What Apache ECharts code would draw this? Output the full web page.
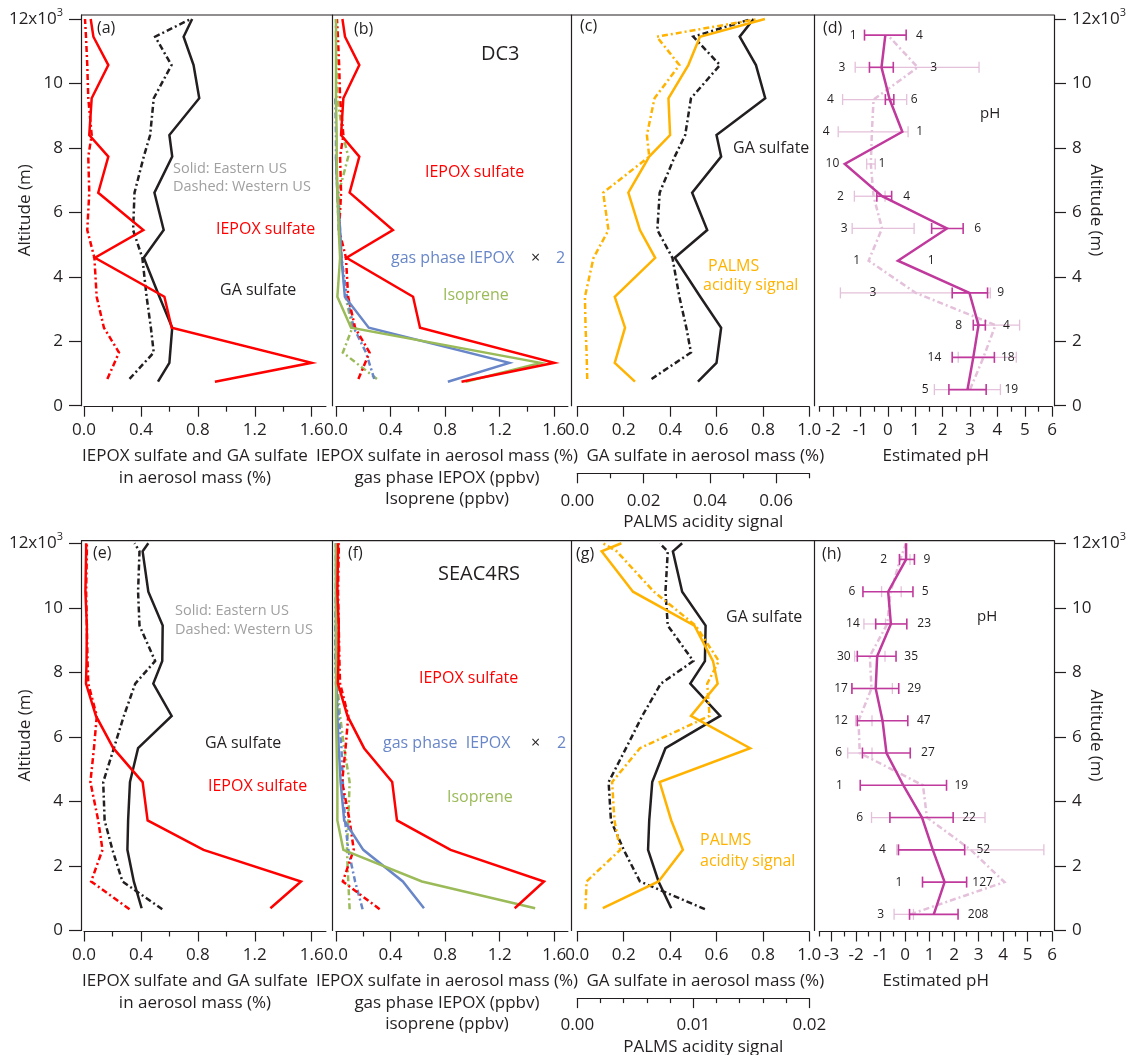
<!DOCTYPE html>
<html><head><meta charset="utf-8">
<script src="https://cdn.jsdelivr.net/npm/echarts@6/dist/echarts.min.js"></script>
<style>html,body{margin:0;padding:0;background:#fff}#c{width:1129px;height:1055px}</style>
</head><body><div id="c"></div>
<script>
// ================= DATA =================
// --- DC3 vertical profiles (altitude, m) ---
const dc3AltEast = [745, 1330, 2420, 3380, 4590, 5450, 6610, 7730, 8400, 9540, 10570, 11450, 12000];
const dc3AltWest = [830, 1650, 2420, 3380, 4590, 5450, 6610, 7730, 8400, 9540, 10570, 11450, 12000];
const dc3IepoxEast = [0.92, 1.60, 0.616, 0.565, 0.077, 0.417, 0.10, 0.171, 0.037, 0.054, 0.171, 0.066, 0.047];
const dc3IepoxWest = [0.164, 0.246, 0.14, 0.089, 0.073, 0.023, 0.037, 0.03, 0.054, 0.03, 0.023, 0.014, 0.007];
const dc3GaEast = [0.52, 0.60, 0.62, 0.53, 0.42, 0.56, 0.495, 0.62, 0.60, 0.81, 0.77, 0.70, 0.76];
const dc3GaWest = [0.32, 0.49, 0.47, 0.44, 0.41, 0.345, 0.355, 0.42, 0.465, 0.49, 0.615, 0.50, 0.75];
const dc3IsopEast = [0.95, 1.50, 0.11, 0.01, 0.03, 0.02, 0.01, 0.005, 0.005, 0.0, 0.0, 0.0, 0.0];
const dc3IsopWest = [0.30, 0.05, 0.12, 0.07, 0.04, 0.03, 0.02, 0.09, 0.05, 0.01, 0.005, 0.0, 0.0];
const dc3GasEast = [0.82, 1.27, 0.24, 0.065, 0.04, 0.03, 0.01, 0.0, null, null, null, null, null];
const dc3GasWest = [0.28, 0.22, 0.13, 0.08, 0.04, 0.02, 0.01, 0.0, 0.0, -0.005, null, null, null];
const dc3PalmsEast = [0.0174, 0.0113, 0.0144, 0.0113, 0.0235, 0.0189, 0.0154, 0.0217, 0.028, 0.0275, 0.0335, 0.037, 0.0566];
const dc3PalmsWest = [0.0030, 0.0028, 0.0025, 0.0023, 0.0049, 0.0094, 0.0078, 0.0217, 0.0210, 0.0233, 0.0308, 0.0240, 0.0546];

// --- SEAC4RS vertical profiles ---
const seacAltEast = [690, 1520, 2500, 3410, 4600, 5650, 6650, 7650, 8350, 9450, 10500, 11750, 12000];
const seacAltWest = [660, 1520, 2500, 3410, 4600, 5650, 6650, 7650, 8350, 9450, 10500, 11750, 12000];
const seacIepoxEast = [1.31, 1.525, 0.84, 0.447, 0.412, 0.206, 0.084, 0.014, 0.018, 0.02, 0.01, 0.015, 0.015];
const seacIepoxWest = [0.32, 0.05, 0.13, 0.10, 0.045, 0.07, 0.09, 0.03, 0.025, 0.02, 0.015, 0.02, 0.02];
const seacGaEast = [0.405, 0.35, 0.305, 0.31, 0.323, 0.38, 0.616, 0.487, 0.55, 0.553, 0.452, 0.412, 0.452];
const seacGaWest = [0.55, 0.27, 0.20, 0.145, 0.135, 0.21, 0.28, 0.36, 0.50, 0.39, 0.38, 0.39, 0.355];
const seacIsopEast = [1.46, 0.63, 0.054, 0.01, 0.01, 0.005, 0.0, 0.0, 0.0, 0.0, 0.0, 0.0, 0.0];
const seacIsopWest = [0.10, 0.09, 0.08, 0.09, 0.10, 0.06, 0.03, 0.01, 0.005, 0.0, 0.0, 0.0, 0.0];
const seacGasEast = [0.645, 0.49, 0.20, 0.06, 0.034, 0.02, 0.01, 0.005, 0.0, 0.0, 0.0, 0.0, 0.0];
const seacGasWest = [0.195, 0.14, 0.09, 0.066, 0.05, 0.04, 0.02, 0.0, -0.005, -0.005, 0.0, 0.0, 0.0];
const seacPalmsEast = [0.0022, 0.0070, 0.0091, 0.0081, 0.0071, 0.0149, 0.0098, 0.0121, 0.0117, 0.0101, 0.0048, 0.0021, 0.0038];
const seacPalmsWest = [0.0007, 0.0008, 0.0037, 0.0032, 0.0030, 0.0054, 0.0114, 0.0112, 0.0122, 0.0102, 0.0066, 0.0034, 0.0022];

// --- Estimated pH, DC3 ---
const dc3PhAlt = [500, 1500, 2500, 3500, 4500, 5500, 6500, 7500, 8500, 9500, 10500, 11500];
const dc3PhEast = [2.91, 3.12, 3.31, 2.98, 0.37, 2.16, -0.21, -1.57, 0.53, 0.07, -0.23, -0.09];
const dc3PhEastLo = [2.23, 2.35, 3.12, 2.35, null, 1.60, -0.40, null, null, -0.09, -0.67, -0.85];
const dc3PhEastHi = [3.59, 3.89, 3.56, 3.64, null, 2.75, 0.14, null, null, 0.22, 0.20, 0.67];
const dc3PhWest = [3.00, 3.49, 3.93, 1.02, -0.70, -0.21, -0.52, -0.62, -0.58, -0.52, 1.09, 0.00];
const dc3PhWestLo = [1.70, 2.57, 3.31, -1.73, null, -1.30, -1.22, -0.77, -1.81, -1.65, -1.19, null];
const dc3PhWestHi = [4.11, 4.69, 4.81, 3.74, null, 0.96, -0.10, -0.46, 0.74, 0.69, 3.33, null];
const dc3CountLeft = [5, 14, 8, 3, 1, 3, 2, 10, 4, 4, 3, 1];
const dc3CountLeftAt = [1.36, 1.70, 2.59, -0.54, -1.14, -1.59, -1.73, -2.02, -2.25, -2.09, -1.67, -1.26];
const dc3CountRight = [19, 18, 4, 9, 1, 6, 4, 1, 1, 6, 3, 4];
const dc3CountRightAt = [4.51, 4.38, 4.33, 4.12, 1.58, 3.28, 0.69, -0.21, 1.16, 0.96, 1.67, 1.15];

// --- Estimated pH, SEAC4RS ---
const seacPhAlt = [500, 1500, 2500, 3500, 4500, 5500, 6500, 7500, 8500, 9500, 10500, 11500, 12000];
const seacPhEast = [1.17, 1.61, 1.13, 0.69, -0.07, -0.76, -0.92, -1.20, -1.14, -0.58, -0.69, 0.04, 0.04];
const seacPhEastLo = [0.18, 0.71, -0.27, -0.62, -1.83, -1.74, -1.95, -2.17, -1.95, -1.20, -1.72, -0.23, null];
const seacPhEastHi = [2.16, 2.51, 2.43, 1.96, 1.69, 0.21, 0.11, -0.26, -0.37, 0.07, 0.32, 0.38, null];
const seacPhWest = [0.21, 4.05, 2.68, 0.89, 0.73, -1.85, -1.90, -1.37, -1.44, -0.73, -0.59, -0.20, 0.04];
const seacPhWestLo = [-0.45, null, -0.34, -1.37, null, -2.34, -2.02, -2.17, -2.06, -1.68, -0.96, -0.23, null];
const seacPhWestHi = [0.34, null, 5.66, 3.26, null, -1.35, -1.35, -0.52, -0.82, -0.80, -0.16, 0.20, null];
const seacCountLeft = [3, 1, 4, 6, 1, 6, 12, 17, 30, 14, 6, 2, null];
const seacCountLeftAt = [-1.0, -0.25, -0.92, -1.85, -2.68, -2.71, -2.61, -2.61, -2.5, -2.13, -2.17, -0.87, null];
const seacCountRight = [208, 127, 52, 22, 19, 27, 47, 29, 35, 23, 5, 9, null];
const seacCountRightAt = [2.98, 3.16, 3.19, 2.61, 2.29, 0.93, 0.76, 0.37, 0.25, 0.78, 0.82, 0.89, null];

// --- Tick labels ---
const altTicks = [0, 2000, 4000, 6000, 8000, 10000, 12000];
const massTicks = [0, 0.4, 0.8, 1.2, 1.6];
const massMinor = [0.2, 0.6, 1.0, 1.4];
const gaTicks = [0, 0.2, 0.4, 0.6, 0.8, 1.0];
const palmsTicksDC3 = [0, 0.02, 0.04, 0.06];
const palmsMinorDC3 = [0.01, 0.03, 0.05, 0.07];
const palmsTicksSEAC = [0, 0.01, 0.02];
const palmsMinorSEAC = [0.002, 0.004, 0.006, 0.008, 0.012, 0.014, 0.016, 0.018];
const phTicksDC3 = [-2, -1, 0, 1, 2, 3, 4, 5, 6];
const phMinorDC3 = [-2.5, -1.5, -0.5, 0.5, 1.5, 2.5, 3.5, 4.5, 5.5];
const phTicksSEAC = [-3, -2, -1, 0, 1, 2, 3, 4, 5, 6];
const phMinorSEAC = [-3.5, -2.5, -1.5, -0.5, 0.5, 1.5, 2.5, 3.5, 4.5, 5.5];

// ================= STYLE / LAYOUT =================
const FONT = "'Open Sans', 'Noto Sans', sans-serif";
const INK = '#231f20';
const COL = {red:'#ff0000', black:'#231f20', orange:'#ffb300', blue:'#6886c8', green:'#9bbb59',
             mag:'#c0399c', pink:'#e4c0da', gray:'#a0a0a0'};
const DASH = [6, 3, 2, 3];
const ROWS = [{top:15, bottom:405.7, ymax:12124}, {top:540.7, bottom:930.5, ymax:12080}];
const COLS = [{left:84, width:241.9, yOff:3}, {left:336, width:231.9, yOff:4},
              {left:577.3, width:232, yOff:5.6}, {left:819.3, width:232.9, yOff:5.3}];

const grids = [];
ROWS.forEach(r => COLS.forEach(c => grids.push({
  left:c.left, top:r.top, width:c.width, height:r.bottom - r.top,
  containLabel:false, outerBoundsMode:'none', show:false
})));

const xAxes = [], yAxes = [], series = [], graphics = [];
const lineSt = {color:INK, width:1.2};
const textBase = {color:INK, fontFamily:FONT, fontSize:17};

function xMain(grid, min, max, ticks, fmt, name, opt) {
  opt = opt || {};
  xAxes.push({
    type:'value', gridIndex:grid, position:'bottom', offset: opt.offset != null ? opt.offset : 1,
    min, max, splitLine:{show:false}, axisPointer:{show:false},
    axisLine:{show:true, onZero:false, lineStyle:lineSt},
    axisTick:{show:true, inside:false, length:10, customValues:ticks, lineStyle:lineSt},
    minorTick:{show:false},
    axisLabel:Object.assign({show:true, customValues:ticks, formatter:fmt, margin: opt.margin || 15, hideOverlap:false}, textBase),
    name, nameLocation:'middle', nameGap: opt.nameGap || 39, nameMoveOverlap:false,
    nameTextStyle:Object.assign({lineHeight:21.5, padding: opt.namePad || 0}, textBase)
  });
  return xAxes.length - 1;
}
function xMinor(grid, min, max, ticks, offset) {
  xAxes.push({
    type:'value', gridIndex:grid, position:'bottom', offset: offset != null ? offset : 1,
    min, max, splitLine:{show:false}, axisPointer:{show:false},
    axisLine:{show:false, onZero:false},
    axisTick:{show:true, inside:false, length:5, customValues:ticks, lineStyle:lineSt},
    axisLabel:{show:false}
  });
  return xAxes.length - 1;
}
function altFmt(v) { return v === 12000 ? '{m|12x10}{s|3}' : '{m|' + (v / 1000) + '}'; }
function yMain(grid, row, pos, offset, labels) {
  yAxes.push({
    type:'value', gridIndex:grid, position:pos, offset, min:0, max:ROWS[row].ymax,
    splitLine:{show:false}, axisPointer:{show:false},
    axisLine:{show:true, onZero:false, lineStyle:lineSt},
    axisTick:{show:labels, inside:false, length:12, customValues:altTicks, lineStyle:lineSt},
    axisLabel:{show:labels, customValues:altTicks, formatter:altFmt, margin:18, color:INK,
      rich:{m:{fontFamily:FONT, fontSize:17, color:INK, lineHeight:24},
            s:{fontFamily:FONT, fontSize:11, color:INK, lineHeight:12, verticalAlign:'top'}}},
    name: labels ? 'Altitude (m)' : '', nameLocation:'middle', nameRotate: pos === 'left' ? 90 : -90,
    nameGap: pos === 'left' ? 47 : 33, nameMoveOverlap:false,
    nameTextStyle:Object.assign({}, textBase)
  });
  return yAxes.length - 1;
}
function pairs(xs, ys) {
  const out = [];
  xs.forEach((x, i) => { if (x != null && ys[i] != null) out.push([x, ys[i]]); });
  return out;
}
function line(xi, yi, xs, ys, color, dashed, width, z) {
  series.push({type:'line', xAxisIndex:xi, yAxisIndex:yi, data:pairs(xs, ys), showSymbol:false, symbol:'none',
    lineStyle:{color, width: width || 2.5, type: dashed ? DASH : 'solid', cap:'butt', join:'miter'},
    itemStyle:{color}, silent:true, animation:false, z: z || 2});
}
function errBars(xi, yi, alts, lo, hi, color, width, z) {
  const data = [];
  alts.forEach((a, i) => { if (lo[i] != null && hi[i] != null) data.push([a, lo[i], hi[i]]); });
  series.push({type:'custom', xAxisIndex:xi, yAxisIndex:yi, data, encode:{x:[1, 2], y:0}, silent:true, z: z || 3,
    renderItem: (params, api) => {
      const y = api.value(0), p1 = api.coord([api.value(1), y]), p2 = api.coord([api.value(2), y]);
      const st = {stroke:color, lineWidth:width, fill:null};
      return {type:'group', children:[
        {type:'line', shape:{x1:p1[0], y1:p1[1], x2:p2[0], y2:p2[1]}, style:st},
        {type:'line', shape:{x1:p1[0], y1:p1[1] - 5.5, x2:p1[0], y2:p1[1] + 5.5}, style:st},
        {type:'line', shape:{x1:p2[0], y1:p2[1] - 5.5, x2:p2[0], y2:p2[1] + 5.5}, style:st}
      ]};
    }});
}
function counts(xi, yi, alts, at, vals) {
  const data = [];
  alts.forEach((a, i) => { if (vals[i] != null && at[i] != null) data.push([at[i], a, vals[i]]); });
  series.push({type:'custom', xAxisIndex:xi, yAxisIndex:yi, data, encode:{x:0, y:1}, silent:true, z:6,
    renderItem: (params, api) => {
      const p = api.coord([api.value(0), api.value(1)]);
      return {type:'text', x:p[0], y:p[1], style:{text:String(api.value(2)), fill:INK, fontSize:12,
        fontFamily:FONT, align:'center', verticalAlign:'middle'}};
    }});
}
function txt(text, x, y, color, size) {
  graphics.push({type:'text', x, y, silent:true, z:10,
    style:{text, fill:color, fontSize:size || 16, fontFamily:FONT, align:'left', verticalAlign:'middle'}});
}

const f1 = v => v.toFixed(1), f2 = v => v.toFixed(2), fi = v => String(v);
const massName = 'IEPOX sulfate and GA sulfate\nin aerosol mass (%)';

// ================= BUILD PANELS =================
[0, 1].forEach(row => {
  const dc3 = row === 0;
  const g0 = row * 4;
  const A = dc3 ? {altE:dc3AltEast, altW:dc3AltWest, iE:dc3IepoxEast, iW:dc3IepoxWest, gE:dc3GaEast, gW:dc3GaWest,
                   isE:dc3IsopEast, isW:dc3IsopWest, gsE:dc3GasEast, gsW:dc3GasWest, pE:dc3PalmsEast, pW:dc3PalmsWest}
                : {altE:seacAltEast, altW:seacAltWest, iE:seacIepoxEast, iW:seacIepoxWest, gE:seacGaEast, gW:seacGaWest,
                   isE:seacIsopEast, isW:seacIsopWest, gsE:seacGasEast, gsW:seacGasWest, pE:seacPalmsEast, pW:seacPalmsWest};

  // panel a / e
  let xa = xMain(g0, 0, 1.7, massTicks, f1, massName, {namePad:[0, 20, 0, 0]});
  xMinor(g0, 0, 1.7, massMinor);
  let ya = yMain(g0, row, 'left', COLS[0].yOff, true);
  line(xa, ya, A.gW, A.altW, COL.black, true);
  line(xa, ya, A.gE, A.altE, COL.black, false);
  line(xa, ya, A.iW, A.altW, COL.red, true);
  line(xa, ya, A.iE, A.altE, COL.red, false);

  // panel b / f
  const bName = 'IEPOX sulfate in aerosol mass (%)\ngas phase IEPOX (ppbv)\n' + (dc3 ? 'Isoprene (ppbv)' : 'isoprene (ppbv)');
  let xb = xMain(g0 + 1, 0, 1.7, massTicks, f1, bName, {namePad:[0, 10, 0, 0]});
  xMinor(g0 + 1, 0, 1.7, massMinor);
  let yb = yMain(g0 + 1, row, 'left', COLS[1].yOff, false);
  line(xb, yb, A.isW, A.altW, COL.green, true);
  line(xb, yb, A.gsW, A.altW, COL.blue, true);
  line(xb, yb, A.iW, A.altW, COL.red, true);
  line(xb, yb, A.gsE, A.altE, COL.blue, false);
  line(xb, yb, A.isE, A.altE, COL.green, false);
  line(xb, yb, A.iE, A.altE, COL.red, false);

  // panel c / g
  let xc = xMain(g0 + 2, 0, 1, gaTicks, f1, 'GA sulfate in aerosol mass (%)', {namePad:[0, 0, 0, 24]});
  let pMax = dc3 ? 0.07 : 0.02;
  let xp = xMain(g0 + 2, 0, pMax, dc3 ? palmsTicksDC3 : palmsTicksSEAC, f2, 'PALMS acidity signal',
                 {offset:67.6, namePad:[0, 0, 0, 20], margin:19, nameGap:38});
  xMinor(g0 + 2, 0, pMax, dc3 ? palmsMinorDC3 : palmsMinorSEAC, 67.6);
  let yc = yMain(g0 + 2, row, 'left', COLS[2].yOff, false);
  line(xc, yc, A.gW, A.altW, COL.black, true);
  line(xc, yc, A.gE, A.altE, COL.black, false);
  line(xp, yc, A.pW, A.altW, COL.orange, true);
  line(xp, yc, A.pE, A.altE, COL.orange, false);

  // panel d / h
  const phMin = dc3 ? -2.5 : -3.5;
  let xd = xMain(g0 + 3, phMin, 6, dc3 ? phTicksDC3 : phTicksSEAC, fi, 'Estimated pH');
  xMinor(g0 + 3, phMin, 6, dc3 ? phMinorDC3 : phMinorSEAC);
  let yd = yMain(g0 + 3, row, 'left', COLS[3].yOff, false);
  yMain(g0 + 3, row, 'right', 1.8, true);
  const P = dc3 ? {alt:dc3PhAlt, e:dc3PhEast, eLo:dc3PhEastLo, eHi:dc3PhEastHi, w:dc3PhWest, wLo:dc3PhWestLo, wHi:dc3PhWestHi,
                   cl:dc3CountLeft, clAt:dc3CountLeftAt, cr:dc3CountRight, crAt:dc3CountRightAt}
                : {alt:seacPhAlt, e:seacPhEast, eLo:seacPhEastLo, eHi:seacPhEastHi, w:seacPhWest, wLo:seacPhWestLo, wHi:seacPhWestHi,
                   cl:seacCountLeft, clAt:seacCountLeftAt, cr:seacCountRight, crAt:seacCountRightAt};
  errBars(xd, yd, P.alt, P.wLo, P.wHi, COL.pink, 1.3, 2);
  line(xd, yd, P.w, P.alt, COL.pink, true, 2.5, 2);
  errBars(xd, yd, P.alt, P.eLo, P.eHi, COL.mag, 1.6, 4);
  line(xd, yd, P.e, P.alt, COL.mag, false, 2.5, 4);
  counts(xd, yd, P.alt, P.clAt, P.cl);
  counts(xd, yd, P.alt, P.crAt, P.cr);
});

// ================= ANNOTATIONS =================
graphics.push({type:'line', silent:true, shape:{x1:81, y1:15, x2:1054, y2:15}, style:{stroke:INK, lineWidth:1.2}});
graphics.push({type:'line', silent:true, shape:{x1:81, y1:540.7, x2:1054, y2:540.7}, style:{stroke:INK, lineWidth:1.2}});
// top row
txt('(a)', 97, 28, INK, 16);
txt('Solid: Eastern US', 173, 169, COL.gray, 14.5);
txt('Dashed: Western US', 173, 187, COL.gray, 14.5);
txt('IEPOX sulfate', 216, 229, COL.red, 16);
txt('GA sulfate', 220, 290, INK, 16);
txt('(b)', 354, 29, INK, 16);
txt('DC3', 481, 54, INK, 20);
txt('IEPOX sulfate', 425, 172, COL.red, 16);
txt('gas phase IEPOX', 391, 258, COL.blue, 16);
txt('\u00d7', 531, 258, INK, 16);
txt('2', 556, 258, COL.blue, 16);
txt('Isoprene', 443, 295, COL.green, 16);
txt('(c)', 580, 26, INK, 16);
txt('GA sulfate', 733, 148, INK, 16);
txt('PALMS', 708, 266, COL.orange, 16);
txt('acidity signal', 703, 285, COL.orange, 16);
txt('(d)', 823, 28, INK, 16);
txt('pH', 980, 114, INK, 15);
// bottom row
txt('(e)', 93, 553, INK, 16);
txt('Solid: Eastern US', 175, 611, COL.gray, 14.5);
txt('Dashed: Western US', 175, 630, COL.gray, 14.5);
txt('GA sulfate', 205, 743, INK, 16);
txt('IEPOX sulfate', 208, 786, COL.red, 16);
txt('(f)', 348, 553, INK, 16);
txt('SEAC4RS', 438, 574, INK, 20);
txt('IEPOX sulfate', 419, 678, COL.red, 16);
txt('gas phase  IEPOX', 383, 743, COL.blue, 16);
txt('\u00d7', 531, 743, INK, 16);
txt('2', 557, 743, COL.blue, 16);
txt('Isoprene', 447, 797, COL.green, 16);
txt('(g)', 576, 554, INK, 16);
txt('GA sulfate', 726, 617, INK, 16);
txt('PALMS', 700, 840, COL.orange, 16);
txt('acidity signal', 700, 861, COL.orange, 16);
txt('(h)', 822, 554, INK, 16);
txt('pH', 977, 617, INK, 15);

const chart = echarts.init(document.getElementById('c'), null, {renderer:'canvas'});
chart.setOption({
  animation:false, backgroundColor:'#ffffff',
  textStyle:{fontFamily:FONT},
  grid:grids, xAxis:xAxes, yAxis:yAxes, series, graphic:{elements:graphics}
});
</script></body></html>
